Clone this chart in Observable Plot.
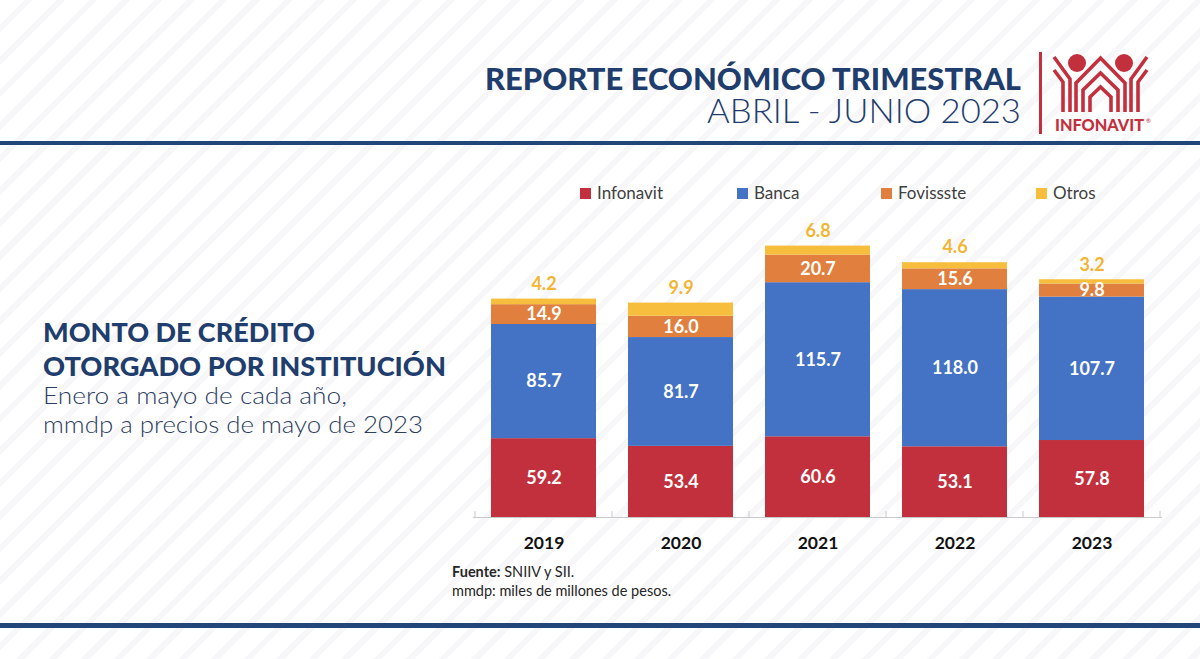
<!DOCTYPE html>
<html>
<head>
<meta charset="utf-8">
<script src="https://cdn.jsdelivr.net/npm/d3@7"></script>
<script src="https://cdn.jsdelivr.net/npm/@observablehq/plot@0.6"></script>
<style>
  html, body { margin: 0; padding: 0; }
  body {
    width: 1200px; height: 659px; overflow: hidden; position: relative;
    font-family: Lato, sans-serif;
    background-color: #ffffff;
    background-image: repeating-linear-gradient(135deg, #ffffff 0px, #ffffff 17px, #f7f7f9 17px, #f7f7f9 23px);
  }
  #decor { position: absolute; left: 0; top: 0; }
  #chart { position: absolute; left: 440px; top: 214px; }
  #chart g[aria-label^="x-axis"] text { font-weight: 700; font-size: 17.5px; fill: #111111; }
</style>
</head>
<body>
<svg id="decor" width="1200" height="659"></svg>
<div id="chart"></div>
<script>
// ---- data ----
const years = ["2019", "2020", "2021", "2022", "2023"];
const institutions = ["Infonavit", "Banca", "Fovissste", "Otros"];
const infonavit = [59.2, 53.4, 60.6, 53.1, 57.8];
const banca = [85.7, 81.7, 115.7, 118.0, 107.7];
const fovissste = [14.9, 16.0, 20.7, 15.6, 9.8];
const otros = [4.2, 9.9, 6.8, 4.6, 3.2];
const colors = ["#C3303D", "#4472C4", "#E07F3E", "#F6BE3C"];

const series = [infonavit, banca, fovissste, otros];
const data = years.flatMap((year, i) =>
  institutions.map((inst, j) => ({year, inst, value: series[j][i]})));

// ---- decorations (header, titles, legend, caption) ----
const NAVY = "#1F3E6E", RED = "#C3303D";
const decor = d3.select("#decor");
decor.append("rect").attr("x", 0).attr("y", 141).attr("width", 1200).attr("height", 4).attr("fill", "#23467A");
decor.append("rect").attr("x", 0).attr("y", 623).attr("width", 1200).attr("height", 5).attr("fill", "#23467A");

decor.append("text").attr("x", 485).attr("y", 90)
  .attr("font-size", 31).attr("font-weight", 900).attr("fill", NAVY)
  .attr("textLength", 536).attr("lengthAdjust", "spacingAndGlyphs")
  .text("REPORTE ECONÓMICO TRIMESTRAL");
decor.append("text").attr("x", 707).attr("y", 123)
  .attr("font-size", 33).attr("font-weight", 300).attr("fill", NAVY)
  .attr("textLength", 314).attr("lengthAdjust", "spacingAndGlyphs")
  .text("ABRIL - JUNIO 2023");

// logo
decor.append("rect").attr("x", 1039).attr("y", 52).attr("width", 3).attr("height", 82).attr("fill", RED);
const logo = decor.append("g").attr("transform", "translate(1030,45)");
logo.append("circle").attr("cx", 47).attr("cy", 18).attr("r", 9).attr("fill", RED);
logo.append("circle").attr("cx", 94).attr("cy", 18).attr("r", 9).attr("fill", RED);
[
  "M24,12 L40,34 L40,67",
  "M24,25 L33,37 L33,67",
  "M46,67 L46,38 L70.5,13 L95,38 L95,67",
  "M53,67 L53,45 L70.5,28 L88,45 L88,67",
  "M60,67 L60,52 L70.5,42 L81,52 L81,67",
  "M117,12 L101,34 L101,67",
  "M117,25 L108,37 L108,67"
].forEach(p => logo.append("path").attr("d", p).attr("fill", "none")
  .attr("stroke", RED).attr("stroke-width", 3.6));
decor.append("text").attr("x", 1055).attr("y", 131)
  .attr("font-size", 16).attr("font-weight", 900).attr("fill", RED)
  .attr("textLength", 89).attr("lengthAdjust", "spacingAndGlyphs").text("INFONAVIT");
decor.append("text").attr("x", 1146).attr("y", 123).attr("font-size", 6).attr("fill", RED).text("®");

// left block
const leftLines = [
  {t: "MONTO DE CRÉDITO", y: 342, w: 272, fs: 27, fw: 900, c: NAVY},
  {t: "OTORGADO POR INSTITUCIÓN", y: 376, w: 403, fs: 27, fw: 900, c: NAVY},
  {t: "Enero a mayo de cada año,", y: 404, w: 304, fs: 23, fw: 300, c: "#2E3E60"},
  {t: "mmdp a precios de mayo de 2023", y: 433, w: 380, fs: 23, fw: 300, c: "#2E3E60"}
];
leftLines.forEach(l => decor.append("text").attr("x", 43).attr("y", l.y)
  .attr("font-size", l.fs).attr("font-weight", l.fw).attr("fill", l.c)
  .attr("textLength", l.w).attr("lengthAdjust", "spacingAndGlyphs").text(l.t));

// legend
const legendX = [580, 737, 881, 1036];
institutions.forEach((name, i) => {
  decor.append("rect").attr("x", legendX[i]).attr("y", 188).attr("width", 11).attr("height", 11).attr("fill", colors[i]);
  decor.append("text").attr("x", legendX[i] + 17).attr("y", 199)
    .attr("font-size", 17).attr("fill", "#404040").text(name);
});

// caption
const cap1 = decor.append("text").attr("x", 452).attr("y", 577).attr("font-size", 14.5).attr("fill", "#262626");
cap1.append("tspan").attr("font-weight", 700).text("Fuente:");
cap1.append("tspan").text(" SNIIV y SII.");
decor.append("text").attr("x", 452).attr("y", 596).attr("font-size", 14.5).attr("fill", "#262626")
  .text("mmdp: miles de millones de pesos.");

// ---- chart ----
function bandTicks(index, scales, values, dimensions) {
  const x = scales.x;
  const bw = typeof x.bandwidth === "function" ? x.bandwidth() : x.bandwidth;
  const step = x(years[1]) - x(years[0]);
  const pad = (step - bw) / 2;
  const y0 = dimensions.height - dimensions.marginBottom;
  const edges = years.map(y => x(y) - pad);
  edges.push(x(years[years.length - 1]) + bw + pad);
  const g = d3.create("svg:g");
  g.selectAll("line").data(edges).join("line")
    .attr("x1", d => d).attr("x2", d => d)
    .attr("y1", y0 - 6).attr("y2", y0)
    .attr("stroke", "#c9c9c9");
  return g.node();
}

const fmt = v => v.toFixed(1);
const chart = Plot.plot({
  width: 760,
  height: 346,
  marginLeft: 33,
  marginRight: 38,
  marginTop: 10,
  marginBottom: 43,
  style: {fontFamily: "Lato, sans-serif", background: "transparent", color: "#111", overflow: "visible"},
  x: {domain: years, paddingInner: 0.23, paddingOuter: 0.115, tickSize: 0, tickPadding: 19, label: null},
  y: {domain: [0, 220], axis: null},
  color: {domain: institutions, range: colors},
  marks: [
    Plot.barY(data, {x: "year", y: "value", fill: "inst"}),
    Plot.ruleY([0], {stroke: "#c9c9c9"}),
    bandTicks,
    Plot.text(data, Plot.stackY({
      x: "year", y: "value",
      text: d => d.inst === "Otros" ? "" : fmt(d.value),
      fill: "white", fontSize: 18, fontWeight: "bold"
    })),
    Plot.text(data, Plot.stackY2({
      x: "year", y: "value",
      text: d => d.inst === "Otros" ? fmt(d.value) : "",
      fill: "#F2B534", fontSize: 18, fontWeight: "bold", dy: -15
    }))
  ]
});
document.getElementById("chart").appendChild(chart);
</script>
</body>
</html>
